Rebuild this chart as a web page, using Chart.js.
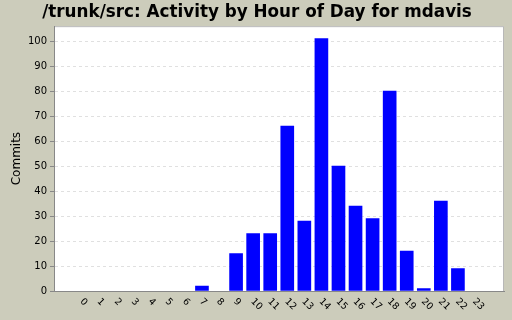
<!DOCTYPE html>
<html>
<head>
<meta charset="utf-8">
<script src="https://cdn.jsdelivr.net/npm/chart.js@4/dist/chart.umd.min.js"></script>
<style>
  html, body { margin: 0; padding: 0; background: #ccccbb; }
  #wrap { width: 512px; height: 320px; }
</style>
</head>
<body>
<div id="wrap"><canvas id="hourChart" width="512" height="320"></canvas></div>
<script>
// commits per hour of day
const hours = [0, 1, 2, 3, 4, 5, 6, 7, 8, 9, 10, 11, 12, 13, 14, 15, 16, 17, 18, 19, 20, 21, 22, 23];
const commits = [0, 0, 0, 0, 0, 0, 0, 2, 0, 15, 23, 23, 66, 28, 101, 50, 34, 29, 80, 16, 1, 36, 9, 0];
const yTicks = [0, 10, 20, 30, 40, 50, 60, 70, 80, 90, 100];

// white plot background with light frame
const plotBg = {
    id: 'plotBg',
    beforeDraw(chart) {
        const a = chart.chartArea, c = chart.ctx;
        c.save();
        c.fillStyle = '#ffffff';
        c.fillRect(a.left, a.top, a.right - a.left, a.bottom - a.top);
        c.strokeStyle = '#b8b8b8';
        c.lineWidth = 1;
        c.strokeRect(a.left + 0.5, a.top + 0.5, a.right - a.left - 1, a.bottom - a.top);
        c.restore();
    }
};

// hour labels slanted down to the right
const hourLabels = {
    id: 'hourLabels',
    afterDraw(chart) {
        const x = chart.scales.x, c = chart.ctx;
        c.save();
        c.font = '9.5px "DejaVu Sans"';
        c.fillStyle = '#000';
        c.textAlign = 'left';
        c.textBaseline = 'middle';
        hours.forEach(h => {
            c.save();
            c.translate(x.getPixelForValue(h) - 1, chart.chartArea.bottom + 9);
            c.rotate(Math.PI / 4);
            c.fillText(String(h), 0, 0);
            c.restore();
        });
        c.restore();
    }
};

new Chart(document.getElementById('hourChart').getContext('2d'), {
    type: 'bar',
    data: {
        labels: hours,
        datasets: [{
            label: 'Commits',
            data: commits,
            backgroundColor: ctx => ctx.raw === 0 ? 'rgba(0,0,0,0)' : '#0000ff',
            borderWidth: 0,
            barThickness: 13
        }]
    },
    options: {
        responsive: false,
        animation: false,
        layout: { padding: { left: 10, right: 8, top: 0, bottom: 0 } },
        plugins: {
            legend: { display: false },
            tooltip: { enabled: false },
            title: {
                display: true,
                text: '/trunk/src: Activity by Hour of Day for mdavis',
                color: '#000',
                font: { family: 'DejaVu Sans', size: 16.8, weight: 'bold' },
                padding: { top: 3, bottom: 3 }
            }
        },
        scales: {
            x: {
                type: 'linear',
                offset: false,
                min: -1.67,
                max: 24.7,
                ticks: { display: false },
                grid: { display: false },
                border: { color: '#888', width: 1 },
                afterFit(s) { s.height = 29; }
            },
            y: {
                min: 0,
                max: 106,
                afterBuildTicks(s) { s.ticks = yTicks.map(v => ({ value: v })); },
                ticks: {
                    color: '#000',
                    padding: 3,
                    font: { family: 'DejaVu Sans', size: 10 }
                },
                grid: {
                    color: '#e0e0e0',
                    tickColor: '#888',
                    tickLength: 4,
                    tickBorderDash: [],
                },
                border: { color: '#888', width: 1, dash: [3, 3] },
                title: {
                    display: true,
                    text: 'Commits',
                    color: '#000',
                    font: { family: 'DejaVu Sans', size: 12 },
                    padding: { top: 0, bottom: 0 }
                },
                afterFit(s) { s.width = 44; }
            }
        }
    },
    plugins: [plotBg, hourLabels]
});
</script>
</body>
</html>
